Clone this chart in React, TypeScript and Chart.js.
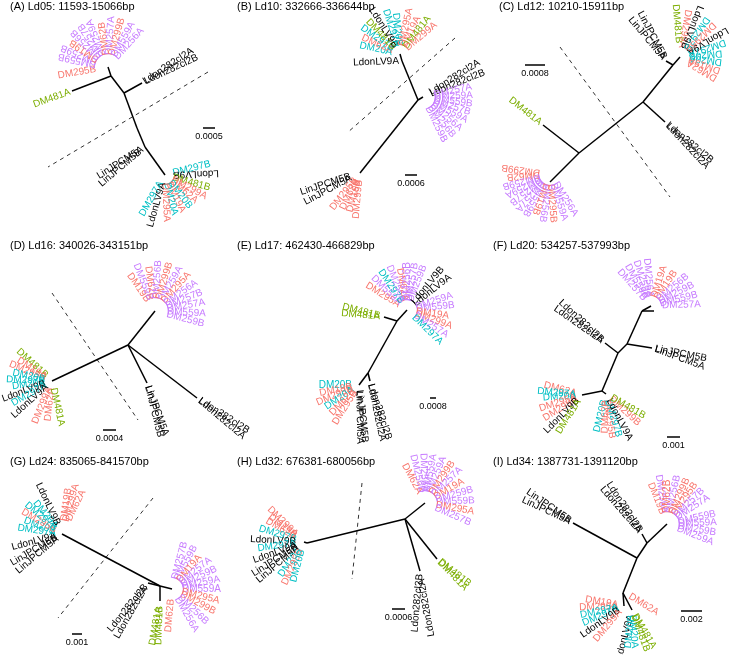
import React, { useEffect, useRef } from "react";
import { Chart, registerables } from "chart.js";
Chart.register(...registerables);

type P = [number, number];
type E = [number, number];
// [node index, label text, outward angle (deg, screen y-down), gap from node, 1 = upside-down]
type L = [number, string, number, number, number?];

const RED = ["DM19", "DM62", "DM295", "DM299"];
const CYAN = ["DM20", "DM297"];
const GREEN = ["DM481"];
const PURPLE = ["DM256", "DM257", "DM259", "DM559"];

// ---------------- Panel A ----------------
const A_TITLE = "(A) Ld05: 11593-15066bp";
const A_NODES: P[] = [[111, 76], [72, 91], [108, 67], [124, 93], [142, 83], [137, 128], [145, 147], [165, 175]];
const A_EDGES: E[] = [[0, 1], [0, 2], [0, 3], [3, 4], [3, 5], [5, 6], [6, 7]];
const A_LABELS: L[] = [
  [1, "DM481A", 160, 2], [4, "Ldon282cl2A", -33, 2], [4, "Ldon282cl2B", -25, 3],
  [6, "LinJPCM5A", 148, 3], [6, "LinJPCM5B", 140, 6],
  [2, "DM295B", 170, 12], [2, "DM559B", -168, 12, 1], [2, "DM259B", -157, 12, 1], [2, "DM19B", -146, 12, 1],
  [2, "DM256B", -135, 12, 1], [2, "DM257B", -123, 12, 1], [2, "DM259A", -112, 12, 1], [2, "DM62B", -98, 12, 1],
  [2, "DM257A", -86, 12], [2, "DM299B", -74, 12], [2, "DM559A", -61, 12], [2, "DM256A", -48, 12],
  [7, "DM297B", -14, 8], [7, "LdonLV9B", -2, 8, 1], [7, "DM481B", 16, 8], [7, "DM299A", 28, 8],
  [7, "DM62A", 40, 8], [7, "DM20B", 52, 8], [7, "DM19A", 64, 8], [7, "DM20A", 76, 8],
  [7, "DM295A", 88, 8], [7, "LdonLV9A", 106, 8], [7, "DM297A", 120, 8],
];
const A_DASH: P[] = [[208, 72], [48, 167]];
const A_SCALE: [number, number, number, string] = [203, 215, 128, "0.0005"];

// ---------------- Panel B ----------------
const B_TITLE = "(B) Ld10: 332666-336644bp";
const B_NODES: P[] = [[157, 61], [173, 100], [178, 97], [115, 173], [155, 54]];
const B_EDGES: E[] = [[0, 1], [1, 2], [1, 3], [0, 4]];
const B_LABELS: L[] = [
  [0, "LdonLV9A", 178, 3], [2, "Ldon282cl2A", -32, 8], [2, "Ldon282cl2B", -22, 8],
  [4, "DM20A", -168, 8], [4, "DM62A", -156, 8], [4, "DM297B", -145, 8], [4, "DM481B", -134, 8],
  [4, "LdonLV9B", -122, 8], [4, "DM297A", -108, 8], [4, "DM20B", -96, 8], [4, "DM295A", -78, 8],
  [4, "DM19A", -64, 8], [4, "DM481A", -52, 8], [4, "DM299A", -40, 8],
  [2, "DM257A", -12, 11], [2, "DM259A", -2, 11], [2, "DM559B", 8, 11], [2, "DM257B", 18, 11],
  [2, "DM559A", 28, 11], [2, "DM256A", 40, 11], [2, "DM256B", 52, 11], [2, "DM259B", 64, 11],
  [3, "LinJPCM5B", 162, 10], [3, "LinJPCM5A", 152, 10], [3, "DM295B", 128, 7], [3, "DM62B", 116, 7],
  [3, "DM19B", 105, 7], [3, "DM299B", 95, 7],
];
const B_DASH: P[] = [[210, 38], [102, 133]];
const B_SCALE: [number, number, number, string] = [160, 172, 175, "0.0006"];

// ---------------- Panel C ----------------
const C_TITLE = "(C) Ld12: 10210-15911bp";
const C_NODES: P[] = [[183, 65], [153, 102], [175, 122], [89, 153], [53, 125], [60, 182], [176, 61], [190, 57], [60, 174]];
const C_EDGES: E[] = [[0, 1], [1, 2], [1, 3], [3, 4], [3, 5], [0, 6], [0, 7]];
const C_LABELS: L[] = [
  [2, "Ldon282cl2B", 40, 3], [2, "Ldon282cl2A", 47, 4], [4, "DM481A", -142, 3],
  [6, "LinJPCM5B", -118, 3], [6, "LinJPCM5A", -130, 3],
  [7, "DM481B", -95, 14], [7, "DM299A", -80, 9, 1], [7, "LdonLV9B", -68, 9, 1], [7, "DM297B", -55, 9, 1],
  [7, "DM295A", -44, 9, 1], [7, "LdonLV9A", -30, 9, 1], [7, "DM297A", -18, 9, 1], [7, "DM20B", -5, 9, 1],
  [7, "DM20A", 7, 9, 1], [7, "DM19A", 19, 9, 1], [7, "DM62A", 31, 9, 1],
  [8, "DM299B", -172, 10, 1], [8, "DM62B", 176, 10, 1], [8, "DM259B", 165, 10, 1], [8, "DM259A", 154, 10, 1],
  [8, "DM257B", 143, 10, 1], [8, "DM257A", 132, 10, 1], [8, "DM559B", 121, 10, 1], [8, "DM19B", 110, 10, 1],
  [8, "DM256B", 99, 10, 1], [8, "DM295B", 86, 10], [8, "DM559A", 72, 10], [8, "DM256A", 58, 10],
];
const C_DASH: P[] = [[70, 47], [180, 197]];
const C_SCALE: [number, number, number, string] = [35, 55, 65, "0.0008"];

// ---------------- Panel D ----------------
const D_TITLE = "(D) Ld16: 340026-343151bp";
const D_NODES: P[] = [[128, 127], [155, 93], [147, 165], [197, 180], [52, 163]];
const D_EDGES: E[] = [[0, 1], [0, 2], [0, 3], [0, 4]];
const D_LABELS: L[] = [
  [2, "LinJPCM5A", 70, 3], [2, "LinJPCM5B", 76, 3], [3, "Ldon282cl2B", 33, 3], [3, "Ldon282cl2A", 40, 3],
  [1, "DM19B", -125, 12], [1, "DM559B", -112, 12], [1, "DM62B", -99, 12], [1, "DM256B", -86, 12],
  [1, "DM299B", -73, 12], [1, "DM259A", -60, 12], [1, "DM295A", -48, 12], [1, "DM256A", -35, 12],
  [1, "DM257B", -22, 12], [1, "DM257A", -10, 12], [1, "DM559A", 3, 12], [1, "DM259B", 15, 12],
  [4, "DM481B", -138, 7], [4, "DM19A", -148, 7], [4, "DM295B", -158, 7], [4, "DM20B", -168, 7],
  [4, "DM297B", -178, 7], [4, "DM20A", 172, 7], [4, "LdonLV9B", 160, 7], [4, "DM297A", 150, 7],
  [4, "LdonLV9A", 138, 7], [4, "DM299A", 112, 7], [4, "DM62A", 96, 7], [4, "DM481A", 78, 7],
];
const D_DASH: P[] = [[52, 75], [138, 202]];
const D_SCALE: [number, number, number, string] = [103, 116, 212, "0.0004"];

// ---------------- Panel E ----------------
const E_TITLE = "(E) Ld17: 462430-466829bp";
const E_NODES: P[] = [[162, 92], [152, 103], [139, 99], [123, 155], [114, 167], [125, 163]];
const E_EDGES: E[] = [[0, 1], [1, 2], [1, 3], [3, 4], [3, 5]];
const E_LABELS: L[] = [
  [2, "DM481B", -166, 4], [2, "DM481A", -175, 4], [5, "Ldon282cl2B", 72, 3], [5, "Ldon282cl2A", 78, 3],
  [4, "LinJPCM5B", 84, 5], [4, "LinJPCM5A", 89, 6],
  [4, "DM20B", 180, 7], [4, "DM19B", 168, 7], [4, "DM299B", 157, 7], [4, "DM20A", 146, 7],
  [4, "DM62B", 134, 7], [4, "DM295B", 122, 7],
  [0, "DM295A", -148, 9], [0, "DM559A", -136, 9], [0, "DM297B", -124, 9], [0, "DM256A", -112, 9],
  [0, "DM62A", -100, 9], [0, "DM256B", -90, 9], [0, "DM257B", -80, 9], [0, "DM259B", -69, 9],
  [0, "LdonLV9B", -50, 9], [0, "LdonLV9A", -38, 9], [0, "DM259A", -18, 9], [0, "DM559B", -6, 9],
  [0, "DM19A", 8, 9], [0, "DM299A", 20, 9], [0, "DM257A", 32, 9], [0, "DM297A", 44, 9],
];
const E_DASH: P[] = [];
const E_SCALE: [number, number, number, string] = [185, 191, 180, "0.0008"];

// ---------------- Panel F ----------------
const F_TITLE = "(F) Ld20: 534257-537993bp";
const F_NODES: P[] = [[152, 93], [137, 126], [162, 130], [128, 135], [115, 125], [112, 173], [92, 177], [116, 176], [161, 88], [164, 93]];
const F_EDGES: E[] = [[0, 1], [1, 2], [1, 3], [3, 4], [3, 5], [5, 6], [5, 7], [0, 8], [0, 9]];
const F_LABELS: L[] = [
  [2, "LinJPCM5B", 11, 3], [2, "LinJPCM5A", 20, 3], [4, "Ldon282cl2B", -137, 3], [4, "Ldon282cl2A", -145, 3],
  [8, "DM257B", -132, 9], [8, "DM559A", -120, 9], [8, "DM259A", -108, 9], [8, "DM256A", -95, 9],
  [8, "DM19A", -72, 9], [8, "DM19B", -55, 9], [8, "DM256B", -40, 9], [8, "DM259B", -27, 9],
  [8, "DM559B", -14, 9], [8, "DM257A", -2, 11],
  [6, "DM62A", -165, 6], [6, "DM297A", -175, 6], [6, "DM20A", 176, 6], [6, "DM295A", 162, 6],
  [6, "DM299A", 148, 6], [6, "LdonLV9B", 135, 6], [6, "DM481A", 122, 6],
  [7, "DM20B", 104, 6], [7, "DM62B", 92, 6], [7, "DM295B", 82, 6], [7, "DM297B", 73, 6],
  [7, "LdonLV9A", 62, 6], [7, "DM299B", 42, 6], [7, "DM481B", 30, 6],
];
const F_DASH: P[] = [];
const F_SCALE: [number, number, number, string] = [177, 190, 219, "0.001"];

// ---------------- Panel G ----------------
const G_TITLE = "(G) Ld24: 835065-841570bp";
const G_NODES: P[] = [[62, 98], [160, 150], [148, 147], [160, 165], [172, 153]];
const G_EDGES: E[] = [[0, 1], [1, 2], [1, 3], [1, 4]];
const G_LABELS: L[] = [
  [2, "Ldon282cl2B", 129, 3], [2, "Ldon282cl2A", 120, 5], [3, "DM481A", 100, 6], [3, "DM481B", 92, 5],
  [4, "DM257B", -75, 10], [4, "DM559B", -62, 10], [4, "DM19A", -50, 10], [4, "DM257A", -38, 10],
  [4, "DM259B", -25, 10], [4, "DM259A", -12, 10], [4, "DM559A", 0, 10], [4, "DM295A", 14, 10],
  [4, "DM299B", 28, 10], [4, "DM256B", 44, 10], [4, "DM256A", 60, 10], [4, "DM62B", 95, 10],
  [0, "LinJPCM5A", 140, 6], [0, "LinJPCM5B", 150, 6], [0, "LdonLV9A", 165, 6], [0, "DM297A", -172, 6],
  [0, "DM20B", -160, 7], [0, "DM295B", -150, 7], [0, "DM297B", -140, 8], [0, "DM20A", -130, 9],
  [0, "LdonLV9B", -115, 10], [0, "DM19B", -82, 13], [0, "DM299A", -74, 13], [0, "DM62A", -64, 15],
];
const G_DASH: P[] = [[153, 62], [58, 182]];
const G_SCALE: [number, number, number, string] = [72, 82, 198, "0.001"];

// ---------------- Panel H ----------------
const H_TITLE = "(H) Ld32: 676381-680056bp";
const H_NODES: P[] = [[62, 107], [160, 83], [180, 67], [175, 135], [192, 123], [59, 106]];
const H_EDGES: E[] = [[0, 1], [1, 2], [1, 3], [1, 4], [0, 5]];
const H_LABELS: L[] = [
  [3, "Ldon282cl2B", 95, 3], [3, "Ldon282cl2A", 80, 8, 1], [4, "DM481B", 38, 3], [4, "DM481A", 46, 3],
  [2, "DM62A", -118, 11], [2, "DM256B", -104, 11], [2, "DM256A", -92, 11], [2, "DM559A", -80, 11],
  [2, "DM259A", -68, 11], [2, "DM299B", -56, 11], [2, "DM257A", -44, 11], [2, "DM19A", -30, 11],
  [2, "DM259B", -16, 11], [2, "DM559B", -3, 11], [2, "DM295A", 10, 11], [2, "DM257B", 24, 11],
  [5, "DM62B", -150, 10], [5, "DM19B", -143, 10], [5, "DM299A", -136, 10], [5, "DM297B", -163, 8],
  [5, "LdonLV9B", -177, 8], [5, "DM297A", 172, 8], [5, "LdonLV9A", 160, 8], [5, "LinJPCM5B", 148, 8],
  [5, "LinJPCM5A", 140, 8], [5, "DM20A", 125, 8], [5, "DM295B", 115, 8], [5, "DM20B", 105, 8],
];
const H_DASH: P[] = [[117, 47], [107, 143]];
const H_SCALE: [number, number, number, string] = [147, 160, 173, "0.0006"];

// ---------------- Panel I ----------------
const I_TITLE = "(I) Ld34: 1387731-1391120bp";
const I_NODES: P[] = [[147, 122], [83, 87], [157, 107], [152, 98], [177, 88], [133, 157], [134, 170], [137, 158], [142, 174]];
const I_EDGES: E[] = [[0, 1], [0, 2], [2, 3], [2, 4], [0, 5], [5, 6], [5, 8]];
const I_LABELS: L[] = [
  [1, "LinJPCM5B", -145, 3], [1, "LinJPCM5A", -155, 3], [3, "Ldon282cl2B", -123, 3], [3, "Ldon282cl2A", -131, 3],
  [7, "DM62A", 32, 3],
  [4, "DM19B", -112, 11], [4, "DM256A", -100, 11], [4, "DM62B", -90, 11], [4, "DM256B", -78, 11],
  [4, "DM299B", -66, 11], [4, "DM295B", -55, 11], [4, "DM257B", -44, 11], [4, "DM257A", -33, 11],
  [4, "DM559B", -12, 11], [4, "DM559A", -2, 11], [4, "DM259B", 10, 11], [4, "DM259A", 22, 11],
  [6, "DM19A", -170, 6], [6, "DM295A", 178, 6], [6, "DM297A", 168, 6], [6, "DM297B", 157, 6],
  [6, "LdonLV9B", 145, 6], [6, "DM299A", 130, 6],
  [8, "LdonLV9A", 105, 5], [8, "DM20B", 96, 5], [8, "DM20A", 86, 5], [8, "DM481B", 70, 5], [8, "DM481A", 60, 5],
];
const I_DASH: P[] = [];
const I_SCALE: [number, number, number, string] = [191, 212, 175, "0.002"];

const PANELS = [
  { o: [0, 0], t: [10, 7], title: A_TITLE, nodes: A_NODES, edges: A_EDGES, labels: A_LABELS, dash: A_DASH, scale: A_SCALE },
  { o: [245, 0], t: [-8, 7], title: B_TITLE, nodes: B_NODES, edges: B_EDGES, labels: B_LABELS, dash: B_DASH, scale: B_SCALE },
  { o: [490, 0], t: [9, 7], title: C_TITLE, nodes: C_NODES, edges: C_EDGES, labels: C_LABELS, dash: C_DASH, scale: C_SCALE },
  { o: [0, 218], t: [10, 28], title: D_TITLE, nodes: D_NODES, edges: D_EDGES, labels: D_LABELS, dash: D_DASH, scale: D_SCALE },
  { o: [245, 218], t: [-8, 28], title: E_TITLE, nodes: E_NODES, edges: E_EDGES, labels: E_LABELS, dash: E_DASH, scale: E_SCALE },
  { o: [490, 218], t: [3, 28], title: F_TITLE, nodes: F_NODES, edges: F_EDGES, labels: F_LABELS, dash: F_DASH, scale: F_SCALE },
  { o: [0, 436], t: [10, 26], title: G_TITLE, nodes: G_NODES, edges: G_EDGES, labels: G_LABELS, dash: G_DASH, scale: G_SCALE },
  { o: [245, 436], t: [-8, 26], title: H_TITLE, nodes: H_NODES, edges: H_EDGES, labels: H_LABELS, dash: H_DASH, scale: H_SCALE },
  { o: [490, 436], t: [3, 26], title: I_TITLE, nodes: I_NODES, edges: I_EDGES, labels: I_LABELS, dash: I_DASH, scale: I_SCALE },
];

const COLORS = { red: "#F8766D", cyan: "#00BFC4", green: "#7CAE00", purple: "#C77CFF", black: "#000000" };
function colorOf(name: string): string {
  const base = name.slice(0, -1);
  if (RED.includes(base)) return COLORS.red;
  if (CYAN.includes(base)) return COLORS.cyan;
  if (GREEN.includes(base)) return COLORS.green;
  if (PURPLE.includes(base)) return COLORS.purple;
  return COLORS.black;
}

const FONT = "'Liberation Sans', Arial, Helvetica, sans-serif";

const textPlugin = {
  id: "treeText",
  afterDatasetsDraw(chart: any) {
    const ctx: CanvasRenderingContext2D = chart.ctx;
    const xs = chart.scales.x;
    const ys = chart.scales.y;
    const px = (v: number) => xs.getPixelForValue(v);
    const py = (v: number) => ys.getPixelForValue(v);
    ctx.save();
    for (const p of PANELS) {
      const [ox, oy] = p.o;
      ctx.font = `11px ${FONT}`;
      ctx.fillStyle = "#000";
      ctx.textAlign = "left";
      ctx.textBaseline = "middle";
      ctx.fillText(p.title, px(ox + p.t[0]), py(oy + p.t[1]));

      ctx.font = `10px ${FONT}`;
      for (const lab of p.labels) {
        const [ni, name, ang, r, ud] = lab;
        const [nx, ny] = p.nodes[ni];
        const rad = (ang * Math.PI) / 180;
        const ax = px(ox + nx + r * Math.cos(rad));
        const ay = py(oy + ny + r * Math.sin(rad));
        let flip = Math.cos(rad) < -1e-6;
        if (ud) flip = !flip;
        ctx.save();
        ctx.translate(ax, ay);
        ctx.rotate(flip ? rad + Math.PI : rad);
        ctx.textAlign = flip ? "right" : "left";
        ctx.textBaseline = "middle";
        ctx.fillStyle = colorOf(name);
        ctx.fillText(name, 0, 0);
        ctx.restore();
      }

      const [sx1, sx2, sy, stxt] = p.scale;
      ctx.font = `9px ${FONT}`;
      ctx.fillStyle = "#000";
      ctx.textAlign = "center";
      ctx.textBaseline = "middle";
      ctx.fillText(stxt, px(ox + (sx1 + sx2) / 2), py(oy + sy + 8.5));
    }
    ctx.restore();
  },
};

export default function App() {
  const ref = useRef<HTMLCanvasElement | null>(null);
  useEffect(() => {
    if (!ref.current) return;
    const datasets: any[] = [];
    for (const p of PANELS) {
      const [ox, oy] = p.o;
      for (const [a, b] of p.edges) {
        datasets.push({
          data: [
            { x: ox + p.nodes[a][0], y: oy + p.nodes[a][1] },
            { x: ox + p.nodes[b][0], y: oy + p.nodes[b][1] },
          ],
          showLine: true,
          borderColor: "#000",
          borderWidth: 1.5,
          pointRadius: 0,
          clip: false,
        });
      }
      if (p.dash.length === 2) {
        datasets.push({
          data: p.dash.map(([x, y]) => ({ x: ox + x, y: oy + y })),
          showLine: true,
          borderColor: "#333",
          borderWidth: 1,
          borderDash: [4, 4],
          pointRadius: 0,
          clip: false,
        });
      }
      const [sx1, sx2, sy] = p.scale;
      datasets.push({
        data: [{ x: ox + sx1, y: oy + sy }, { x: ox + sx2, y: oy + sy }],
        showLine: true,
        borderColor: "#000",
        borderWidth: 1.5,
        pointRadius: 0,
        clip: false,
      });
    }
    const chart = new Chart(ref.current, {
      type: "scatter",
      data: { datasets },
      options: {
        animation: false,
        responsive: false,
        devicePixelRatio: 1,
        layout: { padding: 0 },
        plugins: { legend: { display: false }, tooltip: { enabled: false }, title: { display: false } },
        events: [],
        scales: {
          x: { type: "linear", min: 0, max: 734, display: false },
          y: { type: "linear", min: 0, max: 655, reverse: true, display: false },
        },
      },
      plugins: [textPlugin],
    } as any);
    return () => chart.destroy();
  }, []);
  return (
    <canvas
      ref={ref}
      width={734}
      height={655}
      style={{ position: "fixed", left: 0, top: 0, width: 734, height: 655, background: "#fff" }}
    />
  );
}
